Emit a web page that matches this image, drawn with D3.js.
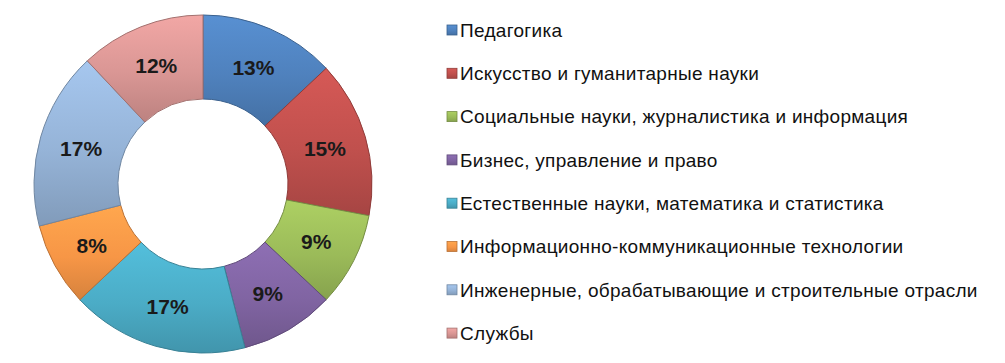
<!DOCTYPE html>
<html>
<head>
<meta charset="utf-8">
<script src="https://cdn.jsdelivr.net/npm/d3@7"></script>
<style>
  body { margin: 0; background: #fff; }
  svg { display: block; }
</style>
</head>
<body>
<div id="chart"></div>
<script>
// values, percent of total
const categories = [
  "Педагогика",
  "Искусство и гуманитарные науки",
  "Социальные науки, журналистика и информация",
  "Бизнес, управление и право",
  "Естественные науки, математика и статистика",
  "Информационно-коммуникационные технологии",
  "Инженерные, обрабатывающие и строительные отрасли",
  "Службы"
];
const shares = [13, 15, 9, 9, 17, 8, 17, 12];
const colors = ["#4f81bd", "#c0504d", "#9bbb59", "#8064a2", "#4bacc6", "#f79646", "#95b3d7", "#d99694"];

const width = 1005, height = 363;
const cx = 203, cy = 184;
const rOuter = 169, rInner = 85;

const svg = d3.select("#chart").append("svg")
  .attr("width", width)
  .attr("height", height);

const defs = svg.append("defs");
colors.forEach((c, i) => {
  const g = defs.append("linearGradient")
    .attr("id", "grad" + i)
    .attr("x1", 0).attr("y1", 0).attr("x2", 0).attr("y2", 1);
  g.append("stop").attr("offset", "0%").attr("stop-color", d3.color(c).brighter(0.3));
  g.append("stop").attr("offset", "55%").attr("stop-color", c);
  g.append("stop").attr("offset", "100%").attr("stop-color", d3.color(c).darker(0.4));
});

const pie = d3.pie().sort(null).value(d => d)(shares);
const arc = d3.arc().innerRadius(rInner).outerRadius(rOuter);
const labelArc = d3.arc().innerRadius((rInner + rOuter) / 2).outerRadius((rInner + rOuter) / 2);

const donut = svg.append("g").attr("transform", `translate(${cx},${cy})`);

donut.selectAll("path")
  .data(pie)
  .join("path")
  .attr("d", arc)
  .attr("fill", (d, i) => `url(#grad${i})`)
  .attr("stroke", (d, i) => d3.color(colors[i]).darker(0.8))
  .attr("stroke-width", 1);

donut.selectAll("text")
  .data(pie)
  .join("text")
  .attr("transform", d => `translate(${labelArc.centroid(d)})`)
  .attr("text-anchor", "middle")
  .attr("dy", "0.36em")
  .style("font", "bold 21px 'Liberation Sans', Arial, sans-serif")
  .attr("fill", "#1a1a1a")
  .text(d => d.data + "%");

// legend
const legend = svg.append("g").attr("transform", "translate(447,30)");
const row = legend.selectAll("g")
  .data(categories)
  .join("g")
  .attr("transform", (d, i) => `translate(0,${i * 43.3})`);

row.append("rect")
  .attr("x", 0).attr("y", -5)
  .attr("width", 10).attr("height", 10)
  .attr("fill", (d, i) => `url(#grad${i})`)
  .attr("stroke", (d, i) => d3.color(colors[i]).darker(0.8))
  .attr("stroke-width", 0.8);

row.append("text")
  .attr("x", 13)
  .attr("dy", "0.36em")
  .style("font", "19px 'Liberation Sans', Arial, sans-serif")
  .style("letter-spacing", "0.3px")
  .attr("fill", "#111")
  .text(d => d);
</script>
</body>
</html>
